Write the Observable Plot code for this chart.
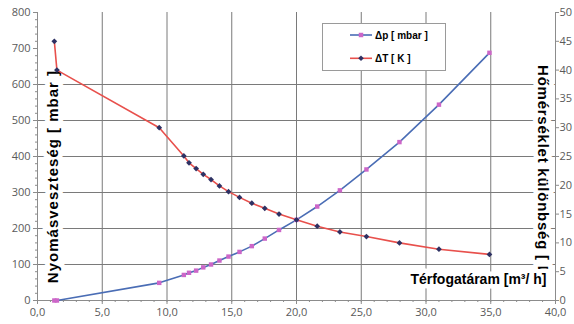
<!DOCTYPE html>
<html><head><meta charset="utf-8">
<script src="https://cdn.jsdelivr.net/npm/d3@7"></script>
<script src="https://cdn.jsdelivr.net/npm/@observablehq/plot@0.6"></script>
<style>body{margin:0;background:#fff} #chart{width:574px;height:324px}</style>
</head><body><div id="chart"></div>
<script>
// Flow rate [m3/h]
const flow = [1.3, 1.5, 9.4, 11.3, 11.7, 12.25, 12.8, 13.4, 14.05, 14.75, 15.6, 16.55, 17.55, 18.65, 20.0, 21.6, 23.35, 25.4, 27.95, 31.0, 34.9];
// Pressure loss [mbar] (left axis)
const dp = [0, 0, 49, 71, 77, 83, 92, 100, 111, 122, 135, 151, 172, 196, 224, 261, 306, 364, 440, 544, 688];
// Temperature difference [K] (right axis)
const dT = [45, 40, 30, 25.1, 23.9, 22.9, 21.9, 21.0, 19.9, 18.9, 17.9, 16.9, 16.0, 15.0, 14.0, 12.9, 11.9, 11.1, 10.0, 8.9, 8.0];

const xTicks = [0, 5, 10, 15, 20, 25, 30, 35, 40];
const xMinor = d3.range(0, 41, 1);
const yTicks = [0, 100, 200, 300, 400, 500, 600, 700, 800];
const yMinor = d3.range(0, 801, 20);
const tTicks = [0, 5, 10, 15, 20, 25, 30, 35, 40, 45, 50];
const gridX = [5, 10, 15, 20, 25, 30, 35];
const gridY = [100, 200, 300, 400, 500, 600];
const yMax = 800, tMax = 50;
const ratio = yMax / tMax;

const leftTitle = "Nyomásveszteség [ mbar ]";
const rightTitle = "Hőmérséklet különbség [ K ]";
const xTitle = "Térfogatáram [m³/ h]";
const legendLabels = ["Δp [ mbar ]", "ΔT [ K ]"];

const blue = "#4a6db5", pink = "#cc66c8", red = "#e8504c", navy = "#2e3163";
const axisGray = "#8c8c8c", gridGray = "#7a7a7a";

const rows = flow.map((q, i) => ({q, dp: dp[i], t: dT[i] * ratio}));
const titleFont = "'Liberation Sans', Arial, sans-serif";

const plot = Plot.plot({
  width: 574, height: 324,
  marginLeft: 37, marginRight: 19, marginTop: 12, marginBottom: 24,
  style: {fontFamily: "'Open Sans', sans-serif", fontSize: "11px", color: "#5a5a5a", background: "white"},
  x: {domain: [0, 40]},
  y: {domain: [0, yMax]},
  marks: [
    Plot.ruleX(gridX, {stroke: gridGray, strokeWidth: 1}),
    Plot.ruleY(gridY, {stroke: gridGray, strokeWidth: 1}),
    Plot.ruleY([0], {stroke: axisGray}),
    Plot.ruleX([0, 40], {stroke: axisGray}),
    Plot.axisX({ticks: xTicks, tickFormat: d => d.toFixed(1).replace(".", ","), tickSize: 4, tickPadding: 4, label: null, stroke: axisGray}),
    Plot.axisX({ticks: xMinor, text: null, tickSize: 2, label: null, stroke: axisGray}),
    Plot.axisY({ticks: yTicks, tickSize: 4, tickPadding: 3, label: null, stroke: axisGray}),
    Plot.axisY({ticks: yMinor, text: null, tickSize: 2, label: null, stroke: axisGray}),
    Plot.axisY({anchor: "right", ticks: tTicks.map(t => t * ratio), tickFormat: d => String(d / ratio), tickSize: 3, tickPadding: 1, label: null, stroke: axisGray}),
    Plot.text([leftTitle], {text: d => d, frameAnchor: "left", dx: 16, dy: 20, rotate: -90, textAnchor: "middle", fontWeight: "bold", fontSize: 15, fontFamily: titleFont, fill: "black", stroke: "white", strokeWidth: 10, paintOrder: "stroke"}),
    Plot.text([rightTitle], {text: d => d, frameAnchor: "right", dx: -13, dy: 20, rotate: 90, textAnchor: "middle", fontWeight: "bold", fontSize: 15, fontFamily: titleFont, fill: "black", stroke: "white", strokeWidth: 10, paintOrder: "stroke"}),
    Plot.text([xTitle], {text: d => d, frameAnchor: "bottom-right", dx: -9, dy: -17, textAnchor: "end", fontWeight: "bold", fontSize: 14, fontFamily: titleFont, fill: "black", stroke: "white", strokeWidth: 9, paintOrder: "stroke"}),
    Plot.line(rows, {x: "q", y: "t", stroke: red, strokeWidth: 1.6}),
    Plot.line(rows, {x: "q", y: "dp", stroke: blue, strokeWidth: 1.6}),
    Plot.dot(rows, {x: "q", y: "dp", symbol: "square", r: 2.5, fill: pink, stroke: "none"}),
    Plot.dot(rows, {x: "q", y: "t", symbol: "diamond2", r: 2.6, fill: navy, stroke: "none"})
  ]
});

const svg = d3.select(plot);
// stretch the vertical axis titles along their length like the reference
svg.selectAll("text").filter(function() { return this.textContent === leftTitle; }).style("letter-spacing", "1px");
svg.selectAll("text").filter(function() { return this.textContent === rightTitle; }).style("letter-spacing", "0.75px");

// Legend box inside the plot area
const lg = svg.append("g");
lg.append("rect").attr("x", 322.5).attr("y", 23.5).attr("width", 123).attr("height", 47)
  .attr("fill", "white").attr("stroke", "#9a9a9a");
const items = [{label: legendLabels[0], line: blue, mark: pink, sym: d3.symbolSquare},
               {label: legendLabels[1], line: red, mark: navy, sym: d3.symbolDiamond2}];
items.forEach((it, i) => {
  const y = 35 + i * 23.3;
  lg.append("line").attr("x1", 350).attr("x2", 372).attr("y1", y).attr("y2", y)
    .attr("stroke", it.line).attr("stroke-width", 1.6);
  lg.append("path").attr("d", d3.symbol(it.sym, 20)()).attr("transform", `translate(361,${y})`).attr("fill", it.mark);
  lg.append("text").attr("x", 375).attr("y", y).attr("dy", "0.35em").attr("text-anchor", "start")
    .attr("font-family", titleFont).attr("font-weight", "bold").attr("font-size", 10).attr("fill", "black")
    .text(it.label);
});

document.getElementById("chart").appendChild(plot);
</script>
</body></html>
